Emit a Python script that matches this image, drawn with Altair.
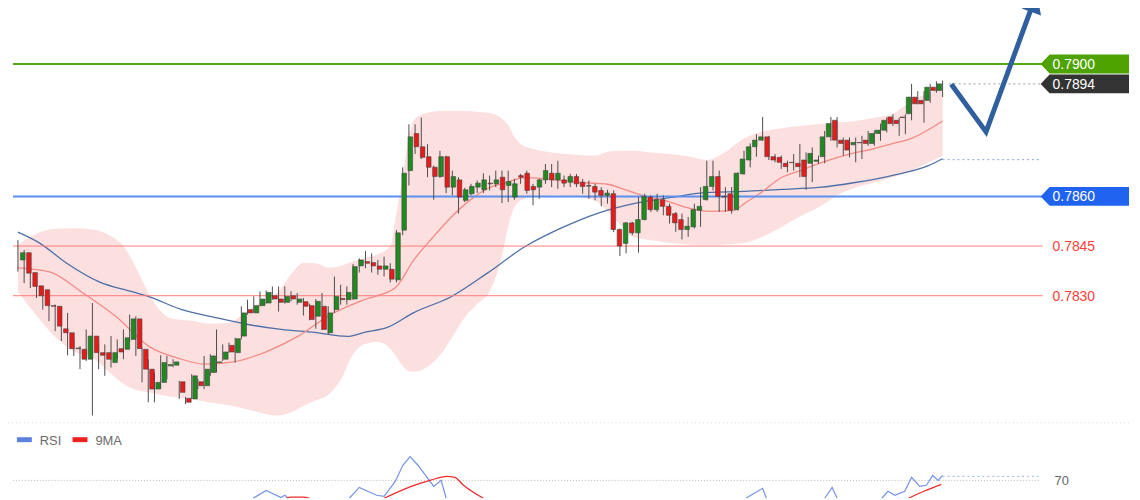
import altair as alt
import pandas as pd

# ---------------- candle data (price) ----------------
opens = [0.78408,0.78430,0.78370,0.78330,0.78318,0.78270,0.78268,0.78200,0.78188,0.78140,
 0.78138,0.78108,0.78178,0.78128,0.78128,0.78098,0.78140,0.78138,0.78168,0.78230,
 0.78138,0.78078,0.78018,0.78038,0.78088,0.78090,0.78040,0.77990,0.77988,0.78040,
 0.78028,0.78068,0.78098,0.78108,0.78150,0.78128,0.78178,0.78258,0.78248,0.78270,
 0.78278,0.78300,0.78290,0.78280,0.78300,0.78280,0.78282,0.78270,0.78238,0.78268,
 0.78188,0.78258,0.78292,0.78288,0.78290,0.78390,0.78403,0.78400,0.78390,0.78380,
 0.78380,0.78348,0.78498,0.78678,0.78790,0.78750,0.78720,0.78688,0.78660,0.78720,
 0.78628,0.78650,0.78588,0.78608,0.78628,0.78620,0.78640,0.78638,0.78658,0.78633,
 0.78598,0.78663,0.78670,0.78630,0.78628,0.78650,0.78670,0.78650,0.78650,0.78643,
 0.78660,0.78643,0.78633,0.78630,0.78618,0.78603,0.78608,0.78500,0.78458,0.78520,
 0.78490,0.78530,0.78598,0.78560,0.78590,0.78570,0.78548,0.78530,0.78500,0.78508,
 0.78558,0.78590,0.78630,0.78660,0.78600,0.78608,0.78560,0.78668,0.78710,0.78750,
 0.78770,0.78780,0.78720,0.78718,0.78700,0.78703,0.78700,0.78710,0.78700,0.78706,
 0.78720,0.78780,0.78830,0.78770,0.78770,0.78756,0.78763,0.78770,0.78760,0.78790,
 0.78800,0.78840,0.78830,0.78840,0.78850,0.78900,0.78890,0.78890,0.78930,0.78920]
highs = [0.78468,0.78438,0.78418,0.78333,0.78324,0.78288,0.78273,0.78228,0.78248,0.78168,
 0.78148,0.78198,0.78278,0.78158,0.78153,0.78178,0.78168,0.78198,0.78243,0.78238,
 0.78143,0.78108,0.78068,0.78120,0.78118,0.78108,0.78043,0.77994,0.78063,0.78048,
 0.78118,0.78123,0.78198,0.78153,0.78158,0.78173,0.78268,0.78288,0.78298,0.78313,
 0.78316,0.78328,0.78328,0.78328,0.78313,0.78308,0.78293,0.78276,0.78290,0.78308,
 0.78268,0.78358,0.78333,0.78328,0.78396,0.78413,0.78435,0.78428,0.78408,0.78418,
 0.78398,0.78498,0.78688,0.78818,0.78818,0.78838,0.78758,0.78693,0.78738,0.78723,
 0.78678,0.78658,0.78626,0.78638,0.78648,0.78670,0.78663,0.78678,0.78678,0.78678,
 0.78653,0.78668,0.78678,0.78638,0.78653,0.78698,0.78698,0.78708,0.78663,0.78668,
 0.78668,0.78653,0.78648,0.78638,0.78628,0.78620,0.78618,0.78503,0.78523,0.78523,
 0.78598,0.78608,0.78603,0.78608,0.78603,0.78578,0.78553,0.78548,0.78538,0.78578,
 0.78628,0.78708,0.78708,0.78678,0.78628,0.78628,0.78673,0.78738,0.78760,0.78788,
 0.78840,0.78783,0.78728,0.78723,0.78708,0.78728,0.78758,0.78733,0.78748,0.78723,
 0.78798,0.78840,0.78840,0.78778,0.78778,0.78778,0.78783,0.78798,0.78800,0.78820,
 0.78838,0.78848,0.78838,0.78848,0.78940,0.78918,0.78918,0.78940,0.78948,0.78950]
lows = [0.78373,0.78338,0.78323,0.78293,0.78258,0.78223,0.78193,0.78163,0.78120,0.78118,
 0.78078,0.78103,0.77938,0.78078,0.78058,0.78083,0.78108,0.78108,0.78163,0.78118,
 0.78038,0.77978,0.77978,0.78018,0.78048,0.78084,0.77988,0.77973,0.77988,0.78018,
 0.78018,0.78058,0.78068,0.78103,0.78128,0.78098,0.78168,0.78243,0.78248,0.78268,
 0.78276,0.78288,0.78252,0.78276,0.78283,0.78273,0.78240,0.78226,0.78200,0.78196,
 0.78183,0.78248,0.78273,0.78273,0.78288,0.78370,0.78383,0.78370,0.78363,0.78358,
 0.78340,0.78340,0.78483,0.78633,0.78728,0.78713,0.78658,0.78590,0.78656,0.78610,
 0.78603,0.78548,0.78583,0.78603,0.78610,0.78610,0.78618,0.78628,0.78580,0.78583,
 0.78590,0.78638,0.78608,0.78573,0.78593,0.78638,0.78628,0.78623,0.78628,0.78628,
 0.78628,0.78608,0.78593,0.78588,0.78570,0.78578,0.78492,0.78420,0.78428,0.78483,
 0.78430,0.78528,0.78553,0.78553,0.78543,0.78518,0.78493,0.78470,0.78478,0.78503,
 0.78508,0.78588,0.78618,0.78553,0.78553,0.78548,0.78558,0.78666,0.78688,0.78720,
 0.78768,0.78710,0.78703,0.78683,0.78673,0.78678,0.78658,0.78620,0.78643,0.78698,
 0.78700,0.78768,0.78748,0.78723,0.78718,0.78703,0.78713,0.78753,0.78753,0.78768,
 0.78793,0.78813,0.78783,0.78788,0.78830,0.78878,0.78823,0.78883,0.78913,0.78900]
closes = [0.78430,0.78368,0.78328,0.78300,0.78270,0.78268,0.78208,0.78188,0.78140,0.78142,
 0.78108,0.78178,0.78128,0.78120,0.78108,0.78128,0.78130,0.78173,0.78230,0.78140,
 0.78078,0.78018,0.78038,0.78098,0.78092,0.78100,0.78008,0.77978,0.78058,0.78028,
 0.78078,0.78118,0.78100,0.78130,0.78130,0.78170,0.78248,0.78248,0.78270,0.78290,
 0.78310,0.78290,0.78280,0.78298,0.78290,0.78290,0.78268,0.78228,0.78283,0.78198,
 0.78248,0.78298,0.78288,0.78310,0.78388,0.78408,0.78398,0.78390,0.78380,0.78390,
 0.78350,0.78490,0.78670,0.78780,0.78750,0.78718,0.78688,0.78660,0.78720,0.78628,
 0.78660,0.78598,0.78620,0.78630,0.78640,0.78650,0.78638,0.78650,0.78620,0.78645,
 0.78638,0.78658,0.78618,0.78620,0.78650,0.78678,0.78650,0.78670,0.78640,0.78660,
 0.78638,0.78630,0.78631,0.78613,0.78603,0.78610,0.78500,0.78450,0.78520,0.78490,
 0.78530,0.78600,0.78560,0.78590,0.78570,0.78543,0.78520,0.78500,0.78510,0.78560,
 0.78570,0.78630,0.78660,0.78600,0.78598,0.78558,0.78670,0.78713,0.78750,0.78770,
 0.78780,0.78720,0.78710,0.78703,0.78690,0.78702,0.78690,0.78660,0.78730,0.78710,
 0.78780,0.78820,0.78770,0.78760,0.78740,0.78763,0.78762,0.78760,0.78790,0.78800,
 0.78830,0.78820,0.78820,0.78838,0.78900,0.78880,0.78880,0.78930,0.78920,0.78940]

# ---------------- Bollinger band (read at sample candles) ----------------
band_idx = [0,3,6,9,12,15,17,19,21,23,25,28,31,34,36,38,40,42,44,46,48,50,52,54,56,58,60,61,62,63,
 64,66,68,70,72,74,76,78,79,80,81,83,86,90,93,95,97,99,102,105,108,111,114,117,120,123,126,129,132,135,
 138,141,144,147,149]
band_upper = [0.78453,0.78487,0.78502,0.78504,0.78500,0.78480,0.78450,0.78385,0.78310,0.78253,
 0.78230,0.78224,0.78215,0.78218,0.78240,0.78268,0.78290,0.78314,0.78365,0.78399,
 0.78398,0.78385,0.78390,0.78404,0.78415,0.78425,0.78450,0.78550,0.78660,0.78783,
 0.78835,0.78853,0.78858,0.78858,0.78858,0.78856,0.78852,0.78835,0.78815,0.78780,
 0.78758,0.78743,0.78733,0.78726,0.78723,0.78735,0.78738,0.78738,0.78733,0.78728,
 0.78721,0.78710,0.78735,0.78775,0.78796,0.78806,0.78813,0.78819,0.78823,0.78828,
 0.78838,0.78850,0.78889,0.78915,0.78933]
band_lower = [0.78312,0.78240,0.78175,0.78132,0.78112,0.78065,0.78033,0.78015,0.78008,0.78000,
 0.77994,0.77987,0.77977,0.77969,0.77961,0.77952,0.77942,0.77938,0.77948,0.77967,
 0.77984,0.78000,0.78045,0.78123,0.78154,0.78160,0.78140,0.78115,0.78088,0.78072,
 0.78070,0.78085,0.78120,0.78175,0.78235,0.78275,0.78313,0.78420,0.78510,0.78567,
 0.78588,0.78598,0.78603,0.78598,0.78588,0.78555,0.78515,0.78477,0.78468,0.78459,
 0.78455,0.78453,0.78455,0.78459,0.78478,0.78507,0.78539,0.78567,0.78603,0.78627,
 0.78642,0.78658,0.78678,0.78705,0.78723]

# ---------------- moving averages ----------------
ma20_idx = [0,5.1,10.4,15.8,21.1,26.4,30.2,34.4,39.8,45.1,50.4,55.8,60.8,63.8,66.9,69.8,72.8,75.7,78.7,81.6,
 84.6,87.5,90.6,93.4,95.2,98.2,100.6,104.2,108.3,111.2,115.4,117.1,120.2,123,126.1,129,134.9,137.9,140.8,143.8,149]
ma20_val = [0.78384,0.78372,0.78309,0.78237,0.78147,0.78108,0.78093,0.78099,0.78129,0.78177,
 0.78243,0.78288,0.78324,0.78408,0.78477,0.78537,0.78588,0.78624,0.78642,0.78657,
 0.78654,0.78648,0.78642,0.78639,0.78636,0.78618,0.78603,0.78588,0.78564,0.78555,
 0.78558,0.78579,0.78618,0.78657,0.78678,0.78699,0.78732,0.78744,0.78759,0.78774,0.78828]
ma50_idx = [0,3.5,7.8,13.1,18.4,21.1,26.4,31.8,37.1,42.4,47.8,53.1,55.8,59.5,63.8,69.8,75.7,81.6,87.5,93.4,
 99.4,105.3,111.2,117.1,123,129,134.9,140.8,146.7,149]
ma50_val = [0.78492,0.78459,0.78399,0.78342,0.78312,0.78297,0.78258,0.78234,0.78213,0.78198,
 0.78189,0.78177,0.78189,0.78204,0.78249,0.78297,0.78369,0.78447,0.78504,0.78549,
 0.78579,0.78597,0.78612,0.78615,0.78621,0.78627,0.78642,0.78663,0.78693,0.78714]

# ---------------- levels & labels ----------------
level_price = [0.7900, 0.7860, 0.7845, 0.7830]
level_color = ["#55a813", "#5b8ff0", "#ff7b7b", "#ff7b7b"]
level_width = [2, 2, 1, 1]
box_price = [0.7900, 0.7894, 0.7860]
box_color = ["#4fa300", "#333333", "#1f63f0"]
label_price = [0.7900, 0.7894, 0.7860, 0.7845, 0.7830]
label_text = ["0.7900", "0.7894", "0.7860", "0.7845", "0.7830"]
label_color = ["#ffffff", "#ffffff", "#ffffff", "#ff3b3b", "#ff3b3b"]
dotted_start = [150.0, 149.0]
dotted_price = [0.7894, 0.78711]
dotted_color = ["#9a9a9a", "#8ea4d8"]

# forecast arrow
arrow_idx = [150.4, 156.0, 163.5]
arrow_price = [0.78939, 0.78795, 0.79179]

# ---------------- RSI panel ----------------
rsi_seg = [1]*5 + [2]*11 + [3]*3 + [4]*3 + [5]*10
rsi_idx = [37.9,40.0,42.4,43.0,43.6,
 53.4,55.0,57.8,59.0,60.8,62.0,63.2,64.5,67.0,68.2,69.0,
 117.3,120.0,120.6,
 130.0,131.2,132.0,
 139.2,140.2,141.3,142.9,144.0,145.3,146.4,147.4,148.3,149.0]
rsi_val = [58,63.3,58.5,60,58,
 58,65.3,60,59.3,69.3,80,86,80,66,70,58,
 58,64.7,58,
 58,65.3,58,
 58,62.7,60,62.7,72,66,66.7,73.3,70,73.3]
rma_seg = [1]*4 + [2]*7 + [3]*3
rma_idx = [43.2,44.0,46.0,47.0, 59.0,63.4,66.4,69.1,70.4,71.8,75.0, 143.5,146.0,148.8]
rma_val = [58,58.7,58.7,58, 58,66,70,72.7,72,66.7,58, 58,62.7,67.3]

# ---------------- chart ----------------
W, H = 1132, 492
FONT = "Liberation Sans, Arial, sans-serif"
GREEN, RED = "#1f8a1f", "#e81b1b"

xscale = alt.Scale(domain=[-1.6, 179.52], nice=False, zero=False)
yscale = alt.Scale(domain=[0.77688, 0.79164], nice=False, zero=False)
rscale = alt.Scale(domain=[58, 386], nice=False, zero=False)


def PX(f):
    return alt.X(f, type="quantitative", scale=xscale, axis=None)


def PY(f):
    return alt.Y(f, type="quantitative", scale=yscale, axis=None)


def RY(f):
    return alt.Y(f, type="quantitative", scale=rscale, axis=None)


candles = pd.DataFrame({"idx": list(range(len(opens))), "open": opens, "high": highs,
                        "low": lows, "close": closes})
band = pd.DataFrame({"idx": band_idx, "upper": band_upper, "lower": band_lower})
ma20 = pd.DataFrame({"idx": ma20_idx, "v": ma20_val})
ma50 = pd.DataFrame({"idx": ma50_idx, "v": ma50_val})
levels = pd.DataFrame({"price": level_price, "col": level_color, "w": level_width})
boxes = pd.DataFrame({"price": box_price, "col": box_color})
labels = pd.DataFrame({"price": label_price, "t": label_text, "col": label_color})
dots = pd.DataFrame({"idx": dotted_start, "price": dotted_price, "col": dotted_color})
arrow = pd.DataFrame({"idx": arrow_idx, "price": arrow_price, "o": [0, 1, 2]})
arrow_head = pd.DataFrame({"idx": [arrow_idx[-1] + 0.3], "price": [arrow_price[-1] + 0.00003]})
rsi = pd.DataFrame({"seg": rsi_seg, "idx": rsi_idx, "v": rsi_val})
rma = pd.DataFrame({"seg": rma_seg, "idx": rma_idx, "v": rma_val})
one = pd.DataFrame({"a": [0]})
rsi_lvl = pd.DataFrame({"v": [70]})
rsi_ext = pd.DataFrame({"idx": [149.0], "v": [72.7]})
legend = pd.DataFrame({"t": ["RSI", "9MA"], "x0": [9, 65], "col": ["#5b82e0", "#ee2020"]})

band_l = alt.Chart(band).mark_area(color="#fcdcdc", opacity=0.9, interpolate="monotone").encode(
    x=PX("idx"), y=PY("lower"), y2="upper")
ma50_l = alt.Chart(ma50).mark_line(color="#4d6fa8", strokeWidth=1.3, interpolate="monotone").encode(
    x=PX("idx"), y=PY("v"))
ma20_l = alt.Chart(ma20).mark_line(color="#f48a84", strokeWidth=1.3, interpolate="monotone").encode(
    x=PX("idx"), y=PY("v"))
lev_l = alt.Chart(levels).mark_rule().encode(
    x=alt.value(5), x2=alt.value(1042), y=PY("price"),
    color=alt.Color("col:N", scale=None), strokeWidth=alt.StrokeWidth("w:Q", scale=None))
dot_l = alt.Chart(dots).mark_rule(strokeDash=[2, 3], strokeWidth=1).encode(
    x=PX("idx"), x2=alt.value(1040), y=PY("price"), color=alt.Color("col:N", scale=None))
wick_l = alt.Chart(candles).mark_rule(color="#4d4d4d", strokeWidth=1).encode(
    x=PX("idx"), y=PY("low"), y2="high")
body_l = alt.Chart(candles).mark_bar(size=4.6, orient="vertical", stroke="#444444", strokeWidth=0.6).encode(
    x=PX("idx"), y=PY("open"), y2="close",
    color=alt.condition("datum.close >= datum.open", alt.value(GREEN), alt.value(RED)))
arrow_l = alt.Chart(arrow).mark_line(color="#2f5f9f", strokeWidth=5, strokeJoin="miter").encode(
    x=PX("idx"), y=PY("price"), order="o:Q")
head_l = alt.Chart(arrow_head).mark_point(shape="triangle-up", filled=True, size=420, angle=20,
                                           color="#2f5f9f", opacity=1).encode(
    x=PX("idx"), y=PY("price"))
BOX_PATH = "M-1,0L-0.798,-0.2135L1,-0.2135L1,0.2135L-0.798,0.2135Z"
box_l = alt.Chart(boxes).mark_point(shape=BOX_PATH, size=7921, filled=True, opacity=1, strokeWidth=0).encode(
    x=alt.value(1084.5), y=PY("price"), color=alt.Color("col:N", scale=None))
lab_l = alt.Chart(labels).mark_text(align="left", baseline="middle", fontSize=14, font=FONT, dy=1).encode(
    x=alt.value(1052), y=PY("price"), text="t:N", color=alt.Color("col:N", scale=None))

sep_l = alt.Chart(one).mark_rule(color="#d8d8d8", strokeDash=[1, 3], strokeWidth=1).encode(
    x=alt.value(0), x2=alt.value(W), y=alt.value(416))
r70_l = alt.Chart(rsi_lvl).mark_rule(color="#b5b5b5", strokeDash=[1, 2], strokeWidth=1).encode(
    x=alt.value(5), x2=alt.value(1038), y=RY("v"))
rext_l = alt.Chart(rsi_ext).mark_rule(color="#9fb3e6", strokeDash=[2, 3], strokeWidth=1).encode(
    x=PX("idx"), x2=alt.value(1038), y=RY("v"))
rsi_l = alt.Chart(rsi).mark_line(color="#7393e3", strokeWidth=1.2, clip=True).encode(
    x=PX("idx"), y=RY("v"), detail="seg:N")
rma_l = alt.Chart(rma).mark_line(color="#ee2a2a", strokeWidth=1.3, clip=True, interpolate="monotone").encode(
    x=PX("idx"), y=RY("v"), detail="seg:N")
r70t_l = alt.Chart(rsi_lvl).mark_text(align="left", baseline="middle", fontSize=13, font=FONT,
                                      color="#666666", dy=1).encode(
    x=alt.value(1054), y=RY("v"), text=alt.value("70"))
leg_rule = alt.Chart(legend).mark_rule(strokeWidth=5).encode(
    x=alt.X("x0:Q", scale=None, axis=None), x2=alt.X2("x1:Q"), y=alt.value(433),
    color=alt.Color("col:N", scale=None)).transform_calculate(x1="datum.x0 + 15")
leg_txt = alt.Chart(legend).mark_text(align="left", baseline="middle", fontSize=13, font=FONT,
                                      color="#6b6b6b", dy=1).encode(
    x=alt.X("xt:Q", scale=None, axis=None), y=alt.value(433), text="t:N").transform_calculate(
    xt="datum.x0 + 23")

chart = alt.layer(
    band_l, ma50_l, ma20_l, lev_l, dot_l, wick_l, body_l, arrow_l, head_l, box_l, lab_l,
    sep_l, r70_l, rext_l, rsi_l, rma_l, r70t_l, leg_rule, leg_txt
).resolve_scale(y="independent", x="independent").properties(
    width=W, height=H, padding=0, autosize="none", background="white"
).configure_view(stroke=None)

chart.save("out.html", embed_options={"renderer": "svg", "actions": False})
